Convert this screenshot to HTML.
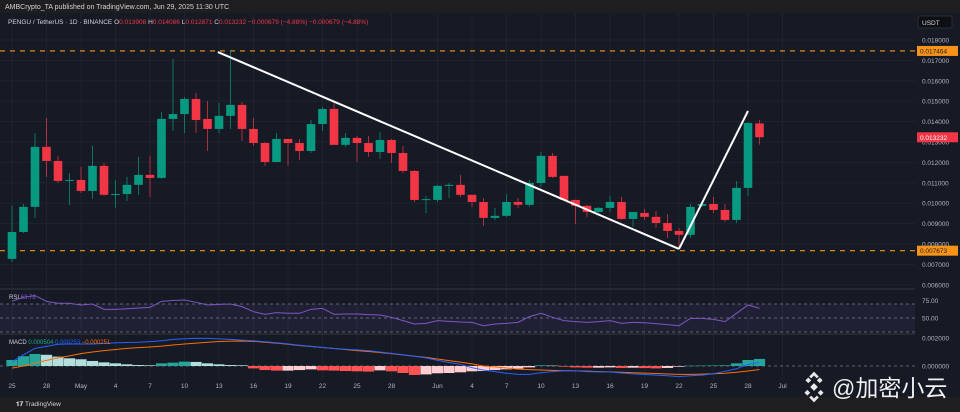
<!DOCTYPE html>
<html><head><meta charset="utf-8"><style>
html,body{margin:0;padding:0;background:#1e1e20;}
svg{display:block;font-family:"Liberation Sans","Noto Sans CJK SC",sans-serif;}
</style></head><body>
<svg id="c" width="960" height="412" viewBox="0 0 960 412" xmlns="http://www.w3.org/2000/svg">
<rect x="0" y="0" width="960" height="412" fill="#1e1e20"/>
<rect x="0" y="13" width="960" height="384" fill="#161a25"/>
<text x="5" y="9" font-size="7" fill="#d1d4dc">AMBCrypto_TA published on TradingView.com, Jun 29, 2025 11:30 UTC</text>
<g id="grid"></g>
<g id="main"></g>
<g id="rsi"></g>
<g id="macd"></g>
<g id="axes"></g>
<text x="8" y="24" font-size="6.5" fill="#d1d4dc">PENGU / TetherUS · 1D · BINANCE <tspan fill="#d1d4dc">O</tspan><tspan fill="#f23645">0.013908</tspan> <tspan fill="#d1d4dc">H</tspan><tspan fill="#f23645">0.014086</tspan> <tspan fill="#d1d4dc">L</tspan><tspan fill="#f23645">0.012871</tspan> <tspan fill="#d1d4dc">C</tspan><tspan fill="#f23645">0.013232 −0.000679 (−4.88%) −0.000679 (−4.88%)</tspan></text>
<rect x="918" y="16" width="34" height="12" rx="2" fill="#0e0f12" stroke="#2a2e39"/>
<text x="922" y="25" font-size="6.5" fill="#d1d4dc">USDT</text>
<text x="9" y="299" font-size="6" fill="#d1d4dc">RSI <tspan fill="#7e57c2">63.78</tspan></text>
<text x="9" y="344" font-size="6" fill="#d1d4dc">MACD <tspan fill="#22ab94">0.000504</tspan> <tspan fill="#2962ff">0.000253</tspan> <tspan fill="#ff6d00">−0.000251</tspan></text>
<text x="16" y="406" font-size="6.5" fill="#d1d4dc" font-weight="bold">𝟏𝟕 <tspan font-weight="normal">TradingView</tspan></text>
<g>
<g transform="translate(814,387) scale(1.35) rotate(45)" fill="#e8e8e8">
<rect x="-2" y="-2" width="4" height="4"/><rect x="-8" y="-2" width="3" height="3"/><rect x="5" y="-2" width="3" height="3"/><rect x="-2" y="-8" width="3" height="3"/><rect x="-2" y="5" width="3" height="3"/>
<rect x="-8" y="-8" width="5" height="2"/><rect x="-8" y="-8" width="2" height="5"/><rect x="3" y="6" width="5" height="2"/><rect x="6" y="3" width="2" height="5"/>
</g>
<text x="832" y="396" font-size="23" fill="#f0f0f0">@加密小云</text>
</g>
</svg>
<script>
const opens=[0.00727,0.00859,0.00982,0.01276,0.01207,0.01109,0.01114,0.01060,0.01183,0.01041,0.01045,0.01090,0.01139,0.01124,0.01413,0.01437,0.01511,0.01413,0.01364,0.01428,0.01482,0.01364,0.01295,0.01202,0.01315,0.01295,0.01256,0.01388,0.01462,0.01286,0.01320,0.01295,0.01251,0.01310,0.01246,0.01158,0.01016,0.01016,0.01085,0.01090,0.01041,0.01006,0.00928,0.00938,0.01006,0.00992,0.01099,0.01232,0.01134,0.01016,0.00987,0.00957,0.00977,0.01006,0.00923,0.00952,0.00933,0.00903,0.00864,0.00845,0.00987,0.00996,0.00967,0.00918,0.01075,0.013908];
const highs=[0.00987,0.00996,0.01344,0.01418,0.01232,0.01148,0.01178,0.01281,0.01197,0.01114,0.01129,0.01227,0.01232,0.01447,0.01707,0.01521,0.01540,0.01501,0.01491,0.01751,0.01496,0.01418,0.01300,0.01344,0.01315,0.01315,0.01408,0.01472,0.01496,0.01344,0.01330,0.01330,0.01349,0.01315,0.01281,0.01163,0.01036,0.01090,0.01099,0.01139,0.01041,0.01026,0.00977,0.01045,0.01026,0.01114,0.01251,0.01246,0.01134,0.01016,0.00992,0.00982,0.01036,0.01031,0.00957,0.00972,0.00962,0.00947,0.00879,0.00996,0.00996,0.01031,0.00996,0.01109,0.01398,0.014086];
const lows=[0.00712,0.00854,0.00928,0.01129,0.01099,0.00992,0.01050,0.01021,0.01036,0.00977,0.01011,0.01041,0.01031,0.01119,0.01354,0.01344,0.01345,0.01256,0.01344,0.01364,0.01305,0.01281,0.01183,0.01202,0.01183,0.01212,0.01246,0.01354,0.01286,0.01276,0.01202,0.01227,0.01217,0.01197,0.01148,0.01006,0.00952,0.01006,0.01026,0.01031,0.00982,0.00889,0.00918,0.00933,0.00977,0.00982,0.01080,0.01124,0.01011,0.00898,0.00933,0.00952,0.00957,0.00918,0.00884,0.00918,0.00879,0.00830,0.00781,0.00830,0.00982,0.00952,0.00908,0.00903,0.01036,0.012871];
const closes=[0.00859,0.00982,0.01276,0.01207,0.01109,0.01114,0.01060,0.01183,0.01041,0.01045,0.01090,0.01139,0.01124,0.01413,0.01437,0.01511,0.01408,0.01364,0.01428,0.01482,0.01364,0.01295,0.01202,0.01315,0.01295,0.01256,0.01388,0.01462,0.01286,0.01320,0.01295,0.01251,0.01310,0.01246,0.01158,0.01016,0.01020,0.01085,0.01090,0.01041,0.01006,0.00928,0.00938,0.01006,0.00992,0.01099,0.01232,0.01129,0.01016,0.00987,0.00957,0.00977,0.01006,0.00923,0.00957,0.00933,0.00903,0.00864,0.00845,0.00982,0.00996,0.00967,0.00918,0.01075,0.01393,0.013232];
const rsiValues=[73.8,79.6,82,73.8,71,71,68.6,70,62.4,62.4,63.3,64.3,65.2,73.8,75,75.7,72.4,68.6,69.5,70,66.2,59,55.2,57.6,56.7,56.7,62.4,63.8,55.2,55.7,55.7,54.8,54.3,51,46.2,41.4,42.4,46.2,45.2,44.3,43.8,39,41.4,42.4,43.8,52,56.7,51,46.2,44.8,43.8,44.8,46.2,42.4,43.8,43.3,41.9,40.5,39,49.5,49.5,48.1,44.8,56.7,68.6,63.8];
const macdHist=[0.00043,0.0007,0.00086,0.0008,0.00067,0.00055,0.00048,0.00036,0.00026,0.00019,0.00012,0.00007,0.00005,0.00019,0.00024,0.00031,0.00029,0.00019,0.00012,0.00007,0.00005,-0.00017,-0.00029,-0.00033,-0.00033,-0.00029,-0.00024,-0.00031,-0.00033,-0.00036,-0.00038,-0.0004,-0.00031,-0.00038,-0.0005,-0.00064,-0.0006,-0.00052,-0.0005,-0.00045,-0.00038,-0.00036,-0.00029,-0.00024,-0.00019,-0.0001,0.00005,0.00003,-0.00005,-0.0001,-0.00012,-0.00012,-0.0001,-0.00014,-0.00012,-0.00015,-0.00017,-0.00014,-0.00005,0.00002,0.00003,0.00004,0.00005,0.00019,0.00043,0.000504];
const macdLine=[0.0003,0.0008,0.00126,0.0014,0.00155,0.00157,0.00157,0.00157,0.00162,0.00165,0.00168,0.0017,0.00174,0.0018,0.0019,0.00195,0.00198,0.00197,0.00194,0.0019,0.00185,0.0018,0.00173,0.00166,0.00158,0.00148,0.0014,0.00132,0.00125,0.0012,0.00115,0.0011,0.001,0.0009,0.0008,0.0007,0.00058,0.0004,0.00025,0.00012,-0.00012,-0.00029,-0.0004,-0.00052,-0.0006,-0.0006,-0.00048,-0.0004,-0.00033,-0.00035,-0.0004,-0.00042,-0.00043,-0.0005,-0.00056,-0.00061,-0.00065,-0.0007,-0.00076,-0.0007,-0.00065,-0.00055,-0.00038,-0.0002,0.00012,0.000253];
const signalLine=[-0.00015,0,0.0002,0.0004,0.00058,0.00072,0.00088,0.001,0.0011,0.00118,0.00126,0.00131,0.00136,0.00142,0.0015,0.00157,0.00163,0.0017,0.00175,0.00178,0.00179,0.00176,0.0017,0.00163,0.00155,0.00146,0.00139,0.00132,0.00125,0.00118,0.0011,0.00104,0.00096,0.00088,0.00079,0.0007,0.00062,0.0005,0.00038,0.00028,0.00015,0,-0.00006,-0.00014,-0.00022,-0.00026,-0.00029,-0.00031,-0.00033,-0.00035,-0.00037,-0.0004,-0.00042,-0.00045,-0.00048,-0.00051,-0.00054,-0.00057,-0.0006,-0.0006,-0.00058,-0.00055,-0.00052,-0.00045,-0.00036,-0.000251];
const priceTicks=[0.018,0.017,0.016,0.015,0.014,0.013,0.012,0.011,0.010,0.009,0.008,0.007,0.006];
const dateLabels=["25","28","May","4","7","10","13","16","19","22","25","28","Jun","4","7","10","13","16","19","22","25","28","Jul"];
const dateIndex=[0,3,6,9,12,15,18,21,24,27,30,33,37,40,43,46,49,52,55,58,61,64,67];
const levels=[0.017464,0.007673];
const trendPoints=[[17.9,0.01741],[58,0.00776],[64,0.01452]];

const NS="http://www.w3.org/2000/svg";
function mk(parent,tag,attrs){const e=document.createElementNS(NS,tag);for(const k in attrs)e.setAttribute(k,attrs[k]);parent.appendChild(e);return e;}
const xOf=i=>12+11.5*i;
const yP=p=>40+(0.018-p)*20400;
const yR=v=>318-(v-50)*0.7;
const yM=v=>366-v*14000;
const main=document.getElementById('main'),grid=document.getElementById('grid'),axes=document.getElementById('axes'),rsi=document.getElementById('rsi'),macd=document.getElementById('macd');

priceTicks.forEach(p=>{const l=mk(grid,'line',{x1:0,x2:915,y1:yP(p),y2:yP(p),stroke:'#1f2330','stroke-width':1});

});
dateIndex.forEach(i=>{const l=mk(grid,'line',{x1:xOf(i),x2:xOf(i),y1:13,y2:380,stroke:'#1f2330','stroke-width':1});

});

levels.forEach(p=>{const l=mk(main,'line',{x1:0,x2:915,y1:yP(p),y2:yP(p),stroke:'#f7931a','stroke-width':1.2,'stroke-dasharray':'5 5'});

});

for(let i=0;i<opens.length;i++){
 const up=closes[i]>=opens[i];const col=up?'#089981':'#f23645';const x=xOf(i);
 const g=mk(main,'g',{});
 
 
 mk(g,'line',{x1:x,x2:x,y1:yP(highs[i]),y2:yP(lows[i]),stroke:col,'stroke-width':1,opacity:0.7});
 const t=yP(Math.max(opens[i],closes[i])),b=yP(Math.min(opens[i],closes[i]));
 mk(g,'rect',{x:x-4.3,y:t,width:8.6,height:Math.max(1,b-t),fill:col});
}
for(let k=0;k<trendPoints.length-1;k++){const a=trendPoints[k],b=trendPoints[k+1];
 const l=mk(main,'line',{x1:xOf(a[0]),y1:yP(a[1]),x2:xOf(b[0]),y2:yP(b[1]),stroke:'#ffffff','stroke-width':2});
 
 }

[289,334].forEach(y=>{const l=mk(axes,'line',{x1:0,x2:960,y1:y,y2:y,stroke:'#2a2e39','stroke-width':1.5});

});

const band=mk(rsi,'rect',{x:0,y:yR(70),width:915,height:yR(30)-yR(70),fill:'#7e57c2','fill-opacity':0.1});


[70,50,30].forEach(v=>{const l=mk(rsi,'line',{x1:0,x2:915,y1:yR(v),y2:yR(v),stroke:'#787b86','stroke-width':0.8,'stroke-dasharray':'3 3'});

});
const rl=mk(rsi,'polyline',{points:rsiValues.map((v,i)=>xOf(i)+','+yR(v)).join(' '),fill:'none',stroke:'#7e57c2','stroke-width':1});



const zl=mk(macd,'line',{x1:0,x2:915,y1:yM(0),y2:yM(0),stroke:'#787b86','stroke-width':0.8,'stroke-dasharray':'3 3'});


macdHist.forEach((v,i)=>{const prev=i?macdHist[i-1]:0;let col;
 if(v>=0)col=v>=prev?'#26a69a':'#b2dfdb';else col=v<prev?'#ff5252':'#ffcdd2';
 const y1=Math.min(yM(v),yM(0)),h=Math.abs(yM(v)-yM(0));
 const r=mk(macd,'rect',{x:xOf(i)-5.6,y:y1,width:11.2,height:Math.max(0.5,h),fill:col});
 
 });
const sl=mk(macd,'polyline',{points:signalLine.map((v,i)=>xOf(i)+','+yM(v)).join(' '),fill:'none',stroke:'#ff6d00','stroke-width':1});


const ml=mk(macd,'polyline',{points:macdLine.map((v,i)=>xOf(i)+','+yM(v)).join(' '),fill:'none',stroke:'#2962ff','stroke-width':1});



const ax=mk(axes,'rect',{x:915,y:30,width:45,height:367,fill:'#161a25'});


priceTicks.forEach(p=>{const t=mk(axes,'text',{x:922,y:yP(p)+2.5,'font-size':6.5,fill:'#b2b5be'});t.textContent=p.toFixed(6);

});
[[75,'75.00'],[50,'50.00']].forEach(a=>{const t=mk(axes,'text',{x:922,y:yR(a[0])+2.5,'font-size':6.5,fill:'#b2b5be'});t.textContent=a[1];

});
[[0.002,'0.002000'],[0,'0.000000']].forEach(a=>{const t=mk(axes,'text',{x:922,y:yM(a[0])+2.5,'font-size':6.5,fill:'#b2b5be'});t.textContent=a[1];

});
levels.forEach(p=>{const r=mk(axes,'rect',{x:917,y:yP(p)-5,width:41,height:10,fill:'#f7931a'});


const t=mk(axes,'text',{x:920,y:yP(p)+2.5,'font-size':6.5,fill:'#1e1e20'});t.textContent=p.toFixed(6);

});
const last=closes[closes.length-1];
const lr=mk(axes,'rect',{x:917,y:yP(last)-5,width:41,height:10,fill:'#f23645'});


const lt=mk(axes,'text',{x:920,y:yP(last)+2.5,'font-size':6.5,fill:'#ffffff'});lt.textContent=last.toFixed(6);


dateLabels.forEach((d,k)=>{const t=mk(axes,'text',{x:xOf(dateIndex[k]),y:388,'font-size':6.5,fill:'#b2b5be','text-anchor':'middle'});t.textContent=d;

});
</script>
</body></html>
